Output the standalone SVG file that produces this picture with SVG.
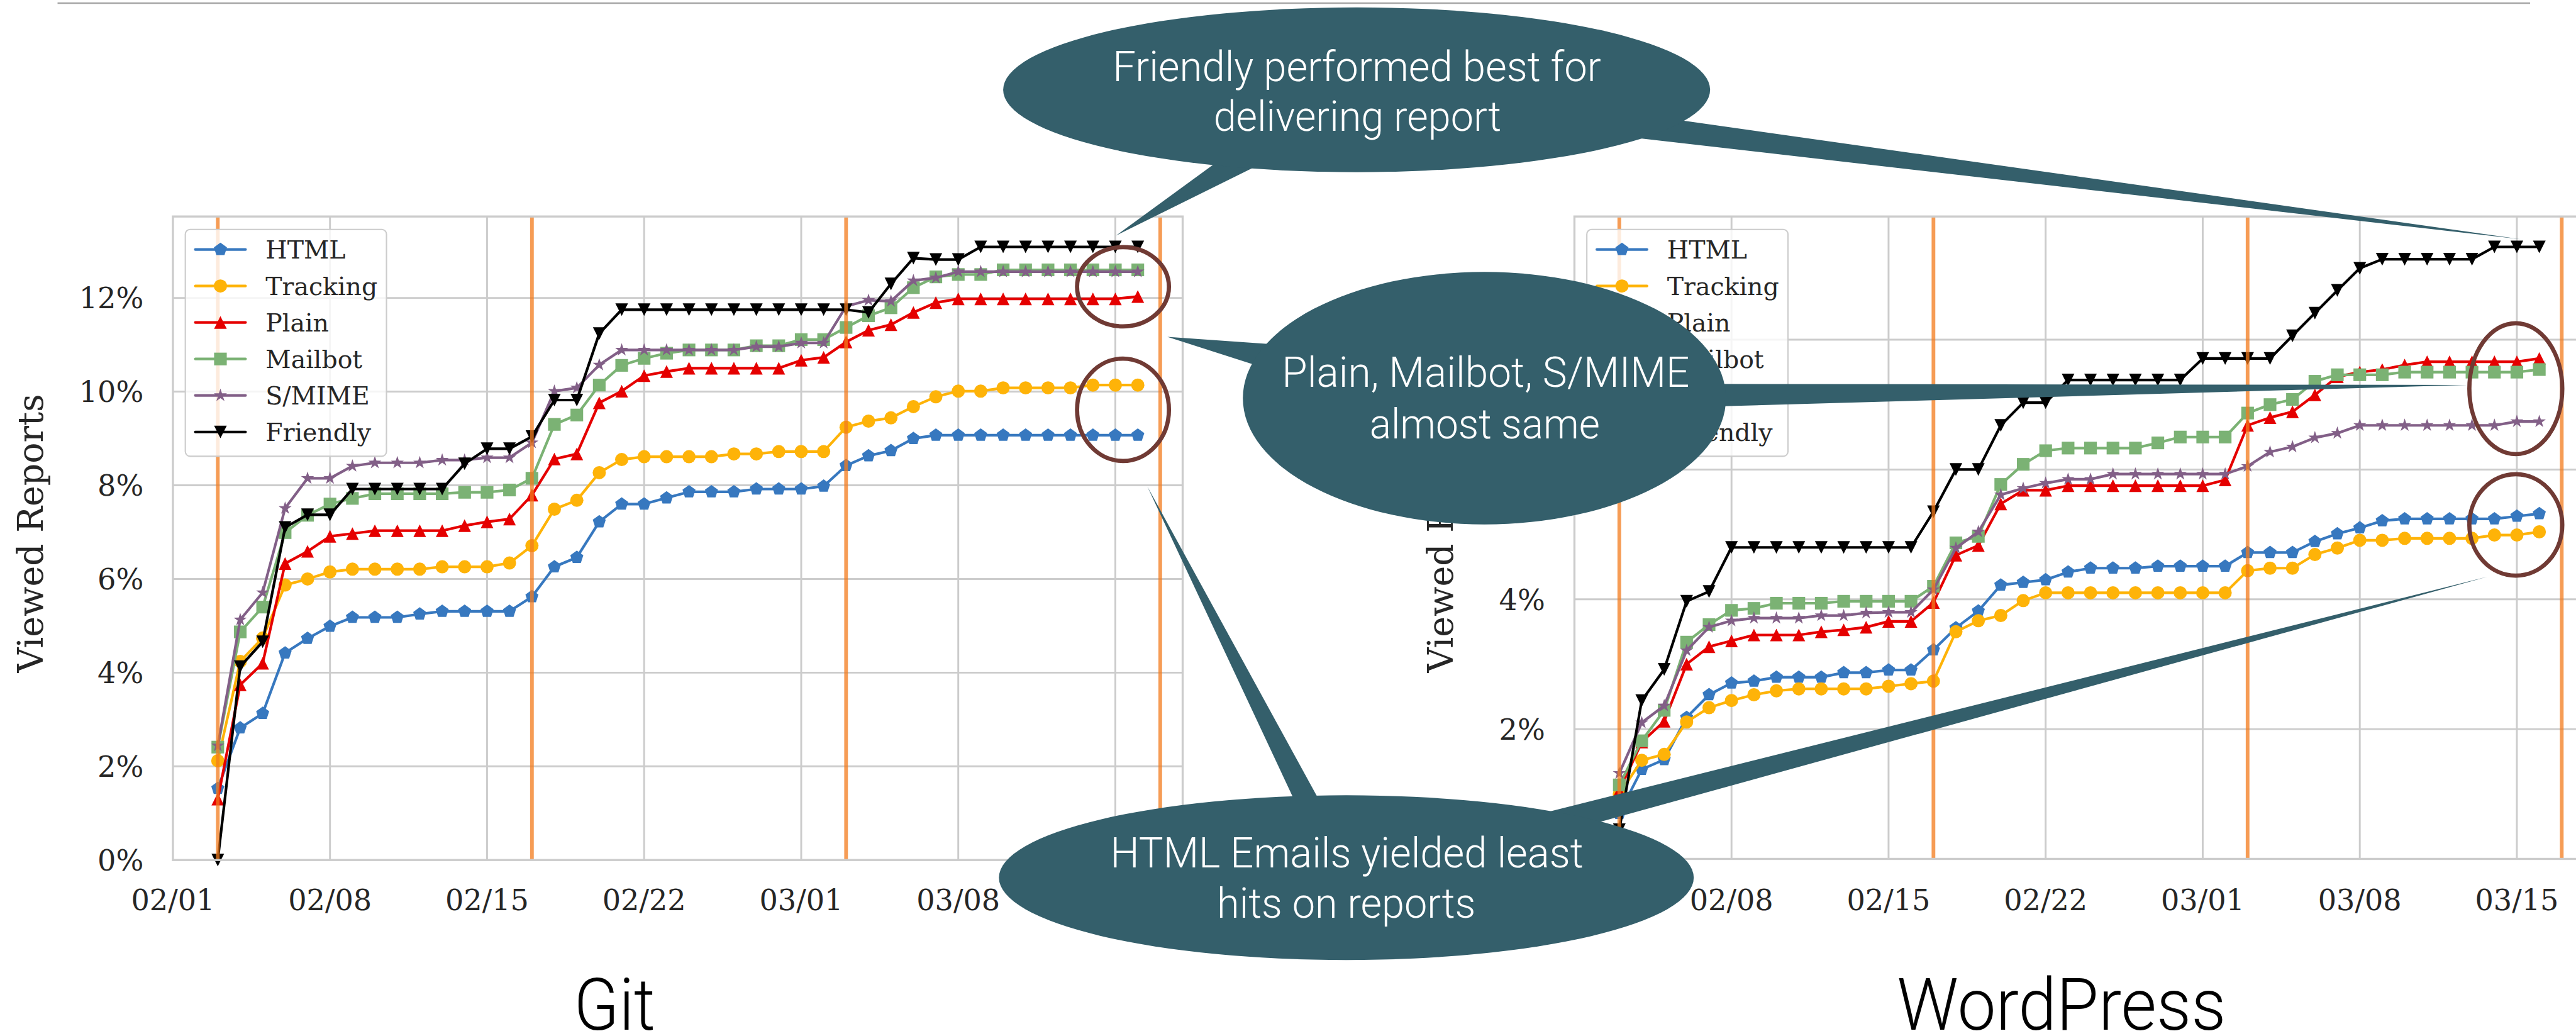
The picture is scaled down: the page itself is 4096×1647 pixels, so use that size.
<svg xmlns="http://www.w3.org/2000/svg" width="4096" height="1647" viewBox="0 0 4096 1647">
<style>
.grid{stroke:#cccccc;stroke-width:3.5;fill:none}
.frame{fill:none;stroke:#cccccc;stroke-width:4}
.vl{stroke:#f37b1d;stroke-width:7;opacity:0.75}
.s{fill:none;stroke-width:5;stroke-linejoin:round;stroke-linecap:round}
.html{stroke:#3778bf}.trk{stroke:#feb308}.pln{stroke:#e50000}.mlb{stroke:#7bb274}.smi{stroke:#825f87}.frd{stroke:#000000}
.p.html{marker:url(#mk-html)}.p.trk{marker:url(#mk-trk)}.p.pln{marker:url(#mk-pln)}.p.mlb{marker:url(#mk-mlb)}.p.smi{marker:url(#mk-smi)}.p.frd{marker:url(#mk-frd)}
.lg.html{marker-mid:url(#mk-html)}.lg.trk{marker-mid:url(#mk-trk)}.lg.pln{marker-mid:url(#mk-pln)}.lg.mlb{marker-mid:url(#mk-mlb)}.lg.smi{marker-mid:url(#mk-smi)}.lg.frd{marker-mid:url(#mk-frd)}
.legbox{fill:#ffffff;fill-opacity:0.8;stroke:#cccccc;stroke-width:2.5}
.tick{font-family:"DejaVu Serif",serif;font-size:55px;fill:#262626}
.ty{text-anchor:end}.tx{text-anchor:middle}
.leg{font-family:"DejaVu Serif",serif;font-size:47px;fill:#262626}
.ylab{font-family:"DejaVu Serif",serif;font-size:66px;fill:#262626;text-anchor:middle}
.title{font-family:Roboto,"Liberation Sans",sans-serif;font-weight:300;font-size:136px;fill:#000000;text-anchor:middle}
.hl{fill:none;stroke:#703a34;stroke-width:8}
.call{fill:#345f6b}
.ct{font-family:Roboto,"Liberation Sans",sans-serif;font-weight:300;font-size:80px;fill:#ffffff;text-anchor:middle}
</style>
<defs>
<marker id="mk-html" viewBox="-15 -15 30 30" refX="0" refY="0" markerWidth="30" markerHeight="30" markerUnits="userSpaceOnUse" overflow="visible"><polygon points="0,-13 12.36,-4.02 7.64,10.52 -7.64,10.52 -12.36,-4.02" fill="#3778bf"/></marker>
<marker id="mk-trk" viewBox="-15 -15 30 30" refX="0" refY="0" markerWidth="30" markerHeight="30" markerUnits="userSpaceOnUse" overflow="visible"><circle r="12.5" fill="#feb308"/></marker>
<marker id="mk-pln" viewBox="-15 -15 30 30" refX="0" refY="0" markerWidth="30" markerHeight="30" markerUnits="userSpaceOnUse" overflow="visible"><polygon points="0,-12 12,12 -12,12" fill="#e50000"/></marker>
<marker id="mk-mlb" viewBox="-15 -15 30 30" refX="0" refY="0" markerWidth="30" markerHeight="30" markerUnits="userSpaceOnUse" overflow="visible"><rect x="-12" y="-12" width="24" height="24" fill="#7bb274"/></marker>
<marker id="mk-smi" viewBox="-15 -15 30 30" refX="0" refY="0" markerWidth="30" markerHeight="30" markerUnits="userSpaceOnUse" overflow="visible"><polygon points="0,-13 2.94,-4.04 12.36,-4.02 4.75,1.54 7.64,10.52 0,5 -7.64,10.52 -4.75,1.54 -12.36,-4.02 -2.94,-4.04" fill="#825f87"/></marker>
<marker id="mk-frd" viewBox="-15 -15 30 30" refX="0" refY="0" markerWidth="30" markerHeight="30" markerUnits="userSpaceOnUse" overflow="visible"><polygon points="0,12 -12,-12 12,-12" fill="#000000"/></marker>
</defs>
<g transform="scale(0.839516)">
<line x1="109" y1="6" x2="4792" y2="6" stroke="#a6a6a6" stroke-width="3"/>

<g id="chart-git">
<path class="grid" d="M327.5 564.2H2240M327.5 741.6H2240M327.5 919H2240M327.5 1096.4H2240M327.5 1273.8H2240M327.5 1451.2H2240M625 410V1628.6M922.5 410V1628.6M1220 410V1628.6M1517.5 410V1628.6M1815 410V1628.6M2112.5 410V1628.6"/>
<polyline class="s p html" points="412.5,1492.9 455,1378.5 497.5,1351 540,1236.5 582.5,1209 625,1186 667.5,1169.1 710,1169.1 752.5,1169.1 795,1162.9 837.5,1157.6 880,1157.6 922.5,1157.6 965,1157.6 1007.5,1130.1 1050,1073.3 1092.5,1055.6 1135,988.2 1177.5,954.5 1220,954.5 1262.5,942.9 1305,931.4 1347.5,931.4 1390,931.4 1432.5,926.1 1475,926.1 1517.5,926.1 1560,920.8 1602.5,881.7 1645,863.1 1687.5,853.4 1730,830.3 1772.5,824.1 1815,824.1 1857.5,824.1 1900,824.1 1942.5,824.1 1985,824.1 2027.5,824.1 2070,824.1 2112.5,824.1 2155,824.1"/>
<polyline class="s p trk" points="412.5,1440.6 455,1252.5 497.5,1208.2 540,1107.9 582.5,1096.4 625,1083.1 667.5,1077.8 710,1077.8 752.5,1077.8 795,1077.8 837.5,1073.3 880,1073.3 922.5,1073.3 965,1066.2 1007.5,1033.4 1050,964.2 1092.5,947.4 1135,895.1 1177.5,870.2 1220,864.9 1262.5,864.9 1305,864.9 1347.5,864.9 1390,859.6 1432.5,859.6 1475,855.1 1517.5,855.1 1560,855.1 1602.5,809 1645,797.5 1687.5,791.3 1730,770 1772.5,751.4 1815,740.7 1857.5,740.7 1900,734.5 1942.5,734.5 1985,734.5 2027.5,734.5 2070,729.2 2112.5,729.2 2155,729.2"/>
<polyline class="s p pln" points="412.5,1513.3 455,1296.9 497.5,1256.1 540,1067.1 582.5,1044.1 625,1015.7 667.5,1010.4 710,1005 752.5,1005 795,1005 837.5,1005 880,995.3 922.5,988.2 965,982.9 1007.5,937.6 1050,869.3 1092.5,859.6 1135,762.9 1177.5,740.7 1220,711.4 1262.5,703.5 1305,697.2 1347.5,697.2 1390,697.2 1432.5,697.2 1475,697.2 1517.5,682.2 1560,676.8 1602.5,647.6 1645,625.4 1687.5,614.8 1730,591.7 1772.5,573.1 1815,566 1857.5,566 1900,566 1942.5,566 1985,566 2027.5,566 2070,566 2112.5,566 2155,561.5"/>
<polyline class="s p mlb" points="412.5,1414.8 455,1196.6 497.5,1149.6 540,1008.6 582.5,975.8 625,954.5 667.5,943.8 710,935 752.5,935 795,935 837.5,935 880,932.3 922.5,932.3 965,927.9 1007.5,905.7 1050,803.7 1092.5,785.9 1135,729.2 1177.5,691.9 1220,678.6 1262.5,668.9 1305,662.7 1347.5,662.7 1390,662.7 1432.5,654.7 1475,654.7 1517.5,643.1 1560,643.1 1602.5,620.1 1645,597.9 1687.5,582.8 1730,544.7 1772.5,524.3 1815,519.8 1857.5,519.8 1900,511 1942.5,511 1985,511 2027.5,511 2070,511 2112.5,511 2155,511"/>
<polyline class="s p smi" points="412.5,1412.2 455,1173.6 497.5,1122.1 540,962.5 582.5,905.7 625,905.7 667.5,882.6 710,876.4 752.5,876.4 795,876.4 837.5,871.1 880,871.1 922.5,866.7 965,866.7 1007.5,838.3 1050,740.7 1092.5,734.5 1135,691 1177.5,662.7 1220,662.7 1262.5,662.7 1305,662.7 1347.5,662.7 1390,662.7 1432.5,656.4 1475,656.4 1517.5,649.4 1560,649.4 1602.5,580.2 1645,568.6 1687.5,570.4 1730,531.4 1772.5,526.1 1815,514.5 1857.5,514.5 1900,514.5 1942.5,514.5 1985,514.5 2027.5,514.5 2070,514.5 2112.5,514.5 2155,514.5"/>
<polyline class="s p frd" points="412.5,1628.6 455,1262.3 497.5,1215.3 540,998.8 582.5,974.9 625,974.9 667.5,926.1 710,926.1 752.5,926.1 795,926.1 837.5,926.1 880,878.2 922.5,849.8 965,849.8 1007.5,826.8 1050,757.6 1092.5,757.6 1135,631.6 1177.5,586.4 1220,586.4 1262.5,586.4 1305,586.4 1347.5,586.4 1390,586.4 1432.5,586.4 1475,586.4 1517.5,586.4 1560,586.4 1602.5,586.4 1645,591.7 1687.5,537.6 1730,488.8 1772.5,491.5 1815,491.5 1857.5,467.5 1900,467.5 1942.5,467.5 1985,467.5 2027.5,467.5 2070,467.5 2112.5,467.5 2155,467.5"/>
<path class="vl" d="M412.5 410V1628.6M1007.5 410V1628.6M1602.5 410V1628.6M2197.5 410V1628.6"/>
<rect class="frame" x="327.5" y="410" width="1912.5" height="1218.6"/>
<g id="legend-git">
<rect class="legbox" x="351" y="434.5" width="381" height="429.5" rx="9"/>
<polyline class="s lg html" points="370,472.5 417.5,472.5 465,472.5"/>
<polyline class="s lg trk" points="370,541.6 417.5,541.6 465,541.6"/>
<polyline class="s lg pln" points="370,610.7 417.5,610.7 465,610.7"/>
<polyline class="s lg mlb" points="370,679.8 417.5,679.8 465,679.8"/>
<polyline class="s lg smi" points="370,748.9 417.5,748.9 465,748.9"/>
<polyline class="s lg frd" points="370,818 417.5,818 465,818"/>
<text class="leg" x="503" y="489.5">HTML</text>
<text class="leg" x="503" y="558.6">Tracking</text>
<text class="leg" x="503" y="627.7">Plain</text>
<text class="leg" x="503" y="696.8">Mailbot</text>
<text class="leg" x="503" y="765.9">S/MIME</text>
<text class="leg" x="503" y="835">Friendly</text>
</g>
<text class="tick ty" x="272" y="1648.6">0%</text>
<text class="tick ty" x="272" y="1471.2">2%</text>
<text class="tick ty" x="272" y="1293.8">4%</text>
<text class="tick ty" x="272" y="1116.4">6%</text>
<text class="tick ty" x="272" y="939">8%</text>
<text class="tick ty" x="272" y="761.6">10%</text>
<text class="tick ty" x="272" y="584.2">12%</text>
<text class="tick tx" x="327.5" y="1724">02/01</text>
<text class="tick tx" x="625" y="1724">02/08</text>
<text class="tick tx" x="922.5" y="1724">02/15</text>
<text class="tick tx" x="1220" y="1724">02/22</text>
<text class="tick tx" x="1517.5" y="1724">03/01</text>
<text class="tick tx" x="1815" y="1724">03/08</text>
<text class="tick tx" x="2112.5" y="1724">03/15</text>
<text class="ylab" transform="translate(81,1010) rotate(-90)">Viewed Reports</text>
<text class="title" x="1164" y="1950" textLength="154" lengthAdjust="spacingAndGlyphs">Git</text>
<ellipse class="hl" cx="2127" cy="543" rx="87" ry="75"/>
<ellipse class="hl" cx="2127" cy="776" rx="87" ry="97"/>
</g>

<g id="chart-wordpress" transform="translate(2654.5,0)">
<path class="grid" d="M327.5 643.3H2240M327.5 889.1H2240M327.5 1134.9H2240M327.5 1380.7H2240M625 410V1626.5M922.5 410V1626.5M1220 410V1626.5M1517.5 410V1626.5M1815 410V1626.5M2112.5 410V1626.5"/>
<polyline class="s p html" points="412.5,1540.5 455,1456.9 497.5,1438.5 540,1358.6 582.5,1315.6 625,1293.4 667.5,1289.8 710,1282.4 752.5,1282.4 795,1282.4 837.5,1273.8 880,1273.8 922.5,1268.9 965,1268.9 1007.5,1230.8 1050,1189 1092.5,1157 1135,1107.9 1177.5,1102.9 1220,1098 1262.5,1083.3 1305,1075.9 1347.5,1075.9 1390,1075.9 1432.5,1072.2 1475,1072.2 1517.5,1072.2 1560,1072.2 1602.5,1046.4 1645,1046.4 1687.5,1046.4 1730,1025.5 1772.5,1010.8 1815,999.7 1857.5,986.2 1900,982.5 1942.5,982.5 1985,982.5 2027.5,982.5 2070,982.5 2112.5,977.6 2155,972.7"/>
<polyline class="s p trk" points="412.5,1503.6 455,1439.7 497.5,1428.6 540,1367.2 582.5,1340.1 625,1326.6 667.5,1315.6 710,1308.2 752.5,1304.5 795,1304.5 837.5,1304.5 880,1304.5 922.5,1299.6 965,1294.7 1007.5,1289.8 1050,1196.3 1092.5,1175.5 1135,1165.6 1177.5,1137.4 1220,1122.6 1262.5,1122.6 1305,1122.6 1347.5,1122.6 1390,1122.6 1432.5,1122.6 1475,1122.6 1517.5,1122.6 1560,1122.6 1602.5,1080.8 1645,1075.9 1687.5,1075.9 1730,1050.1 1772.5,1037.8 1815,1023.1 1857.5,1023.1 1900,1019.4 1942.5,1019.4 1985,1019.4 2027.5,1019.4 2070,1013.2 2112.5,1013.2 2155,1007.1"/>
<polyline class="s p pln" points="412.5,1497.5 455,1405.3 497.5,1366 540,1257.8 582.5,1224.6 625,1213.6 667.5,1202.5 710,1202.5 752.5,1202.5 795,1196.3 837.5,1192.7 880,1187.7 922.5,1176.7 965,1176.7 1007.5,1141 1050,1051.3 1092.5,1032.9 1135,954.2 1177.5,928.4 1220,928.4 1262.5,919.8 1305,919.8 1347.5,919.8 1390,919.8 1432.5,919.8 1475,919.8 1517.5,919.8 1560,908.8 1602.5,805.5 1645,790.8 1687.5,779.7 1730,747.8 1772.5,713.4 1815,704.7 1857.5,699.8 1900,691.2 1942.5,685.1 1985,685.1 2027.5,685.1 2070,685.1 2112.5,685.1 2155,678.9"/>
<polyline class="s p mlb" points="412.5,1486.4 455,1402.8 497.5,1345.1 540,1216 582.5,1182.8 625,1155.8 667.5,1152.1 710,1142.3 752.5,1142.3 795,1142.3 837.5,1138.6 880,1138.6 922.5,1138.6 965,1138.6 1007.5,1110.3 1050,1028 1092.5,1015.7 1135,917.4 1177.5,879.3 1220,853.5 1262.5,848.5 1305,848.5 1347.5,848.5 1390,848.5 1432.5,838.7 1475,827.6 1517.5,827.6 1560,827.6 1602.5,782.2 1645,766.2 1687.5,756.4 1730,722 1772.5,709.7 1815,709.7 1857.5,709.7 1900,704.7 1942.5,704.7 1985,704.7 2027.5,704.7 2070,704.7 2112.5,704.7 2155,699.8"/>
<polyline class="s p smi" points="412.5,1464.3 455,1368.4 497.5,1336.5 540,1232 582.5,1187.7 625,1175.5 667.5,1170.5 710,1170.5 752.5,1170.5 795,1165.6 837.5,1165.6 880,1160.7 922.5,1159.5 965,1159.5 1007.5,1116.5 1050,1037.8 1092.5,1007.1 1135,937 1177.5,924.7 1220,914.9 1262.5,907.5 1305,907.5 1347.5,897.7 1390,897.7 1432.5,897.7 1475,897.7 1517.5,897.7 1560,897.7 1602.5,883 1645,855.9 1687.5,846.1 1730,828.9 1772.5,820.3 1815,805.5 1857.5,805.5 1900,805.5 1942.5,805.5 1985,805.5 2027.5,805.5 2070,805.5 2112.5,798.2 2155,798.2"/>
<polyline class="s p frd" points="412.5,1571.2 455,1326.6 497.5,1267.6 540,1138.6 582.5,1120.2 625,1036.6 667.5,1036.6 710,1036.6 752.5,1036.6 795,1036.6 837.5,1036.6 880,1036.6 922.5,1036.6 965,1036.6 1007.5,969 1050,889.1 1092.5,889.1 1135,805.5 1177.5,762.5 1220,762.5 1262.5,719.5 1305,719.5 1347.5,719.5 1390,719.5 1432.5,719.5 1475,719.5 1517.5,678.9 1560,678.9 1602.5,678.9 1645,678.9 1687.5,635.9 1730,592.9 1772.5,549.9 1815,508.1 1857.5,490.9 1900,490.9 1942.5,490.9 1985,490.9 2027.5,490.9 2070,467.5 2112.5,467.5 2155,467.5"/>
<path class="vl" d="M412.5 410V1626.5M1007.5 410V1626.5M1602.5 410V1626.5M2197.5 410V1626.5"/>
<rect class="frame" x="327.5" y="410" width="1912.5" height="1216.5"/>
<g id="legend-wordpress">
<rect class="legbox" x="351" y="434.5" width="381" height="429.5" rx="9"/>
<polyline class="s lg html" points="370,472.5 417.5,472.5 465,472.5"/>
<polyline class="s lg trk" points="370,541.6 417.5,541.6 465,541.6"/>
<polyline class="s lg pln" points="370,610.7 417.5,610.7 465,610.7"/>
<polyline class="s lg mlb" points="370,679.8 417.5,679.8 465,679.8"/>
<polyline class="s lg smi" points="370,748.9 417.5,748.9 465,748.9"/>
<polyline class="s lg frd" points="370,818 417.5,818 465,818"/>
<text class="leg" x="503" y="489.5">HTML</text>
<text class="leg" x="503" y="558.6">Tracking</text>
<text class="leg" x="503" y="627.7">Plain</text>
<text class="leg" x="503" y="696.8">Mailbot</text>
<text class="leg" x="503" y="765.9">S/MIME</text>
<text class="leg" x="503" y="835">Friendly</text>
</g>
<text class="tick ty" x="272" y="1646.5">0%</text>
<text class="tick ty" x="272" y="1400.7">2%</text>
<text class="tick ty" x="272" y="1154.9">4%</text>
<text class="tick ty" x="272" y="909.1">6%</text>
<text class="tick ty" x="272" y="663.3">8%</text>
<text class="tick tx" x="327.5" y="1724">02/01</text>
<text class="tick tx" x="625" y="1724">02/08</text>
<text class="tick tx" x="922.5" y="1724">02/15</text>
<text class="tick tx" x="1220" y="1724">02/22</text>
<text class="tick tx" x="1517.5" y="1724">03/01</text>
<text class="tick tx" x="1815" y="1724">03/08</text>
<text class="tick tx" x="2112.5" y="1724">03/15</text>
<text class="ylab" transform="translate(97.5,1010) rotate(-90)">Viewed Reports</text>
<text class="title" x="1250" y="1950" textLength="623" lengthAdjust="spacingAndGlyphs">WordPress</text>
<ellipse class="hl" cx="2110.5" cy="736" rx="88" ry="124"/>
<ellipse class="hl" cx="2110.5" cy="994" rx="88" ry="96"/>
</g>

<g id="connectors" class="call">
<polygon points="2317.5,297.5 2114,446 2396,306.3"/>
<polygon points="3150,223 4774,453 3060,256.8"/>
<polygon points="2211,638 2450,654.5 2420,705"/>
<polygon points="3200,727 4674,729 3200,771"/>
<polygon points="2173,921 2463,1540 2512,1540"/>
<polygon points="2900,1545.5 4712,1092 3000,1564.7"/>
</g>

<g id="callout-friendly">
<ellipse class="call" cx="2569.5" cy="170" rx="669.5" ry="156"/>
<text class="ct" x="2570" y="154" textLength="925" lengthAdjust="spacingAndGlyphs">Friendly performed best for</text>
<text class="ct" x="2571" y="248" textLength="545" lengthAdjust="spacingAndGlyphs">delivering report</text>
</g>
<g id="callout-plain">
<ellipse class="call" cx="2811.5" cy="754" rx="457.5" ry="239"/>
<text class="ct" x="2814" y="733" font-size="78" textLength="772" lengthAdjust="spacingAndGlyphs">Plain, Mailbot, S/MIME</text>
<text class="ct" x="2812" y="830" font-size="78" textLength="436" lengthAdjust="spacingAndGlyphs">almost same</text>
</g>
<g id="callout-html">
<ellipse class="call" cx="2550" cy="1662" rx="658" ry="156"/>
<text class="ct" x="2551" y="1643" textLength="896" lengthAdjust="spacingAndGlyphs">HTML Emails yielded least</text>
<text class="ct" x="2550" y="1738" textLength="490" lengthAdjust="spacingAndGlyphs">hits on reports</text>
</g>
</g>
</svg>
